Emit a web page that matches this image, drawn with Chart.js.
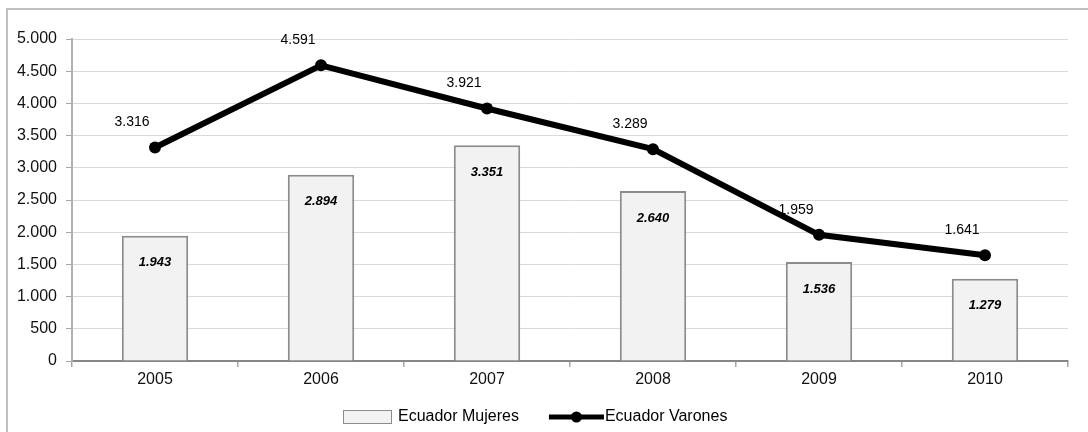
<!DOCTYPE html>
<html>
<head>
<meta charset="utf-8">
<script src="https://cdn.jsdelivr.net/npm/chart.js@4/dist/chart.umd.min.js"></script>
<style>
    body { margin: 0; background: #fff; }
    #wrap { width: 1088px; height: 432px; }
</style>
</head>
<body>
<div id="wrap"><canvas id="chart" width="1088" height="432"></canvas></div>
<script>
// Data
const years = ['2005', '2006', '2007', '2008', '2009', '2010'];
const mujeres = [1943, 2894, 3351, 2640, 1536, 1279];
const varones = [3316, 4591, 3921, 3289, 1959, 1641];
const seriesNames = ['Ecuador Mujeres', 'Ecuador Varones'];
const yMax = 5000;
const yStep = 500;

const FONT = '"Liberation Sans", Arial, sans-serif';

// 5000 -> "5.000"
const fmt = v => String(v).replace(/\B(?=(\d{3})+(?!\d))/g, '.');

// White background + outer frame (only top/left edges are visible)
const framePlugin = {
    id: 'frame',
    beforeDraw: (chart) => {
        const ctx = chart.ctx;
        ctx.save();
        ctx.fillStyle = '#fff';
        ctx.fillRect(0, 0, chart.width, chart.height);
        ctx.strokeStyle = '#bfbfbf';
        ctx.lineWidth = 2;
        ctx.strokeRect(7, 9, chart.width + 20, chart.height + 20);
        ctx.restore();
    }
};

// Value labels on bars and line points
const labelPlugin = {
    id: 'valueLabels',
    afterDatasetsDraw: (chart) => {
        const ctx = chart.ctx;
        ctx.save();
        ctx.fillStyle = '#000';
        ctx.textAlign = 'center';
        ctx.textBaseline = 'middle';

        ctx.font = 'italic bold 13px ' + FONT;
        chart.getDatasetMeta(0).data.forEach((bar, i) => {
            ctx.fillText(fmt(mujeres[i]), bar.x, bar.y + 27);
        });

        ctx.font = '14px ' + FONT;
        chart.getDatasetMeta(1).data.forEach((pt, i) => {
            ctx.fillText(fmt(varones[i]), pt.x - 23, pt.y - 25);
        });
        ctx.restore();
    }
};

// Legend at the bottom: a box for the bars, a thick line with a dot for the line
const legendPlugin = {
    id: 'bottomLegend',
    afterDraw: (chart) => {
        const ctx = chart.ctx;
        ctx.save();
        ctx.font = '16px ' + FONT;
        ctx.textBaseline = 'middle';
        ctx.textAlign = 'left';
        const y = 417;
        const w1 = ctx.measureText(seriesNames[0]).width;
        const w2 = ctx.measureText(seriesNames[1]).width;
        const total = 48 + 7 + w1 + 30 + 56 + w2;
        let x = Math.round(chart.width / 2 - total / 2 - 9);

        ctx.fillStyle = '#f2f2f2';
        ctx.fillRect(x, y - 7, 48, 13);
        ctx.strokeStyle = '#8c8c8c';
        ctx.lineWidth = 1;
        ctx.strokeRect(x + 0.5, y - 6.5, 48, 13);
        x += 48 + 7;
        ctx.fillStyle = '#000';
        ctx.fillText(seriesNames[0], x, y);
        x += w1 + 30;

        ctx.strokeStyle = '#000';
        ctx.lineWidth = 5;
        ctx.beginPath();
        ctx.moveTo(x, y);
        ctx.lineTo(x + 55, y);
        ctx.stroke();
        ctx.beginPath();
        ctx.arc(x + 27.5, y, 5.5, 0, Math.PI * 2);
        ctx.fill();
        x += 56;
        ctx.fillText(seriesNames[1], x, y);
        ctx.restore();
    }
};

new Chart(document.getElementById('chart'), {
    type: 'bar',
    data: {
        labels: years,
        datasets: [
            {
                type: 'bar',
                label: seriesNames[0],
                data: mujeres,
                backgroundColor: '#f2f2f2',
                borderColor: '#8c8c8c',
                borderWidth: 2,
                categoryPercentage: 1,
                barPercentage: 0.4,
                order: 1
            },
            {
                type: 'line',
                label: seriesNames[1],
                data: varones,
                borderColor: '#000',
                backgroundColor: '#000',
                borderWidth: 6,
                pointRadius: 6,
                pointBackgroundColor: '#000',
                pointBorderWidth: 0,
                tension: 0,
                order: 0
            }
        ]
    },
    options: {
        responsive: false,
        animation: false,
        layout: { padding: { top: 39, right: 20, left: 0, bottom: 0 } },
        plugins: {
            legend: { display: false },
            tooltip: { enabled: false }
        },
        scales: {
            x: {
                offset: true,
                afterFit: s => { s.height = 71; },
                grid: {
                    offset: true,
                    drawOnChartArea: false,
                    tickLength: 6,
                    tickColor: '#a6a6a6',
                    lineWidth: 1.5
                },
                border: { color: '#868686', width: 2 },
                ticks: {
                    padding: 3,
                    color: '#111',
                    font: { family: FONT, size: 16 }
                }
            },
            y: {
                min: 0,
                max: yMax,
                afterFit: s => { s.width = 72; },
                grid: {
                    color: '#d9d9d9',
                    lineWidth: 1,
                    tickLength: 6,
                    tickColor: '#a6a6a6'
                },
                border: { color: '#b0b0b0', width: 2 },
                ticks: {
                    stepSize: yStep,
                    padding: 9,
                    color: '#111',
                    font: { family: FONT, size: 16 },
                    callback: v => fmt(v)
                }
            }
        }
    },
    plugins: [framePlugin, labelPlugin, legendPlugin]
});
</script>
</body>
</html>
